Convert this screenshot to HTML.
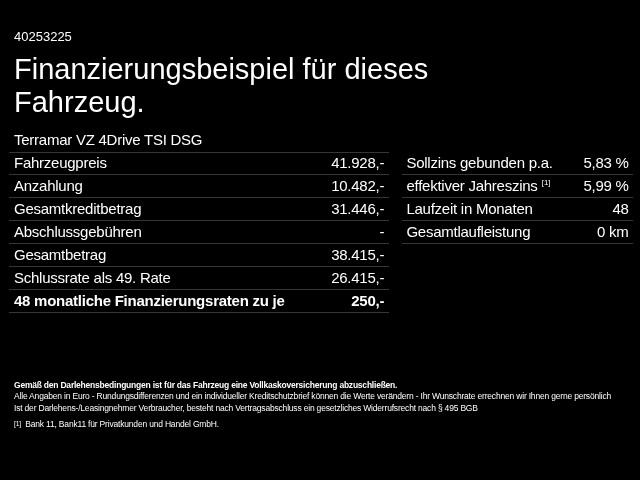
<!DOCTYPE html>
<html><head><meta charset="utf-8">
<style>
html,body{margin:0;padding:0;background:#000;width:640px;height:480px;overflow:hidden}
body{filter:grayscale(1)}
body{font-family:"Liberation Sans",sans-serif;color:#fff;position:relative}
.a{position:absolute;white-space:nowrap}
.ln{position:absolute;height:1px;background:#363636}
.t{font-size:15px;line-height:20px;letter-spacing:-0.25px;height:20px}
.r{text-align:right}
span.sp{font-size:7.9px;position:relative;top:-5.8px;letter-spacing:0;margin-left:4.2px}
.foot{font-size:8.5px;line-height:11px;letter-spacing:-0.19px}
.foot span.fn{font-size:6.8px;position:relative;top:-1px;margin-right:4.3px}
</style></head><body>
<div class="a" style="left:14px;top:29px;font-size:13px;line-height:15px">40253225</div>
<div class="a" style="left:14px;top:52.6px;font-size:29px;line-height:33.4px">Finanzierungsbeispiel für dieses<br>Fahrzeug.</div>
<div class="a t" style="left:14px;top:130px">Terramar VZ 4Drive TSI DSG</div>
<div class="ln" style="left:9px;width:380px;top:152px"></div>
<div class="ln" style="left:9px;width:380px;top:174px"></div>
<div class="ln" style="left:9px;width:380px;top:197px"></div>
<div class="ln" style="left:9px;width:380px;top:220px"></div>
<div class="ln" style="left:9px;width:380px;top:243px"></div>
<div class="ln" style="left:9px;width:380px;top:266px"></div>
<div class="ln" style="left:9px;width:380px;top:289px"></div>
<div class="ln" style="left:9px;width:380px;top:312px"></div>
<div class="ln" style="left:402px;width:231px;top:174px"></div>
<div class="ln" style="left:402px;width:231px;top:197px"></div>
<div class="ln" style="left:402px;width:231px;top:220px"></div>
<div class="ln" style="left:402px;width:231px;top:243px"></div>
<div class="a t" style="left:14px;top:153.00px">Fahrzeugpreis</div>
<div class="a t r" style="left:200px;width:184.2px;top:153.00px">41.928,-</div>
<div class="a t" style="left:14px;top:176.00px">Anzahlung</div>
<div class="a t r" style="left:200px;width:184.2px;top:176.00px">10.482,-</div>
<div class="a t" style="left:14px;top:199.00px">Gesamtkreditbetrag</div>
<div class="a t r" style="left:200px;width:184.2px;top:199.00px">31.446,-</div>
<div class="a t" style="left:14px;top:222.00px">Abschlussgebühren</div>
<div class="a t r" style="left:200px;width:184.2px;top:222.00px">-</div>
<div class="a t" style="left:14px;top:245.00px">Gesamtbetrag</div>
<div class="a t r" style="left:200px;width:184.2px;top:245.00px">38.415,-</div>
<div class="a t" style="left:14px;top:268.00px">Schlussrate als 49. Rate</div>
<div class="a t r" style="left:200px;width:184.2px;top:268.00px">26.415,-</div>
<div class="a t" style="left:14px;top:291.00px"><b>48 monatliche Finanzierungsraten zu je</b></div>
<div class="a t r" style="left:200px;width:184.2px;top:291.00px"><b>250,-</b></div>
<div class="a t" style="left:406.4px;top:153.00px">Sollzins gebunden p.a.</div>
<div class="a t r" style="left:540px;width:88.6px;top:153.00px">5,83 %</div>
<div class="a t" style="left:406.4px;top:176.00px">effektiver Jahreszins<span class="sp">[1]</span></div>
<div class="a t r" style="left:540px;width:88.6px;top:176.00px">5,99 %</div>
<div class="a t" style="left:406.4px;top:199.00px">Laufzeit in Monaten</div>
<div class="a t r" style="left:540px;width:88.6px;top:199.00px">48</div>
<div class="a t" style="left:406.4px;top:222.00px">Gesamtlaufleistung</div>
<div class="a t r" style="left:540px;width:88.6px;top:222.00px">0 km</div>
<div class="a foot" style="left:14px;top:379.5px;letter-spacing:-0.22px"><b>Gemäß den Darlehensbedingungen ist für das Fahrzeug eine Vollkaskoversicherung abzuschließen.</b></div>
<div class="a foot" style="left:14px;top:391px">Alle Angaben in Euro - Rundungsdifferenzen und ein individueller Kreditschutzbrief können die Werte verändern - Ihr Wunschrate errechnen wir Ihnen gerne persönlich</div>
<div class="a foot" style="left:14px;top:403px">Ist der Darlehens-/Leasingnehmer Verbraucher, besteht nach Vertragsabschluss ein gesetzliches Widerrufsrecht nach § 495 BGB</div>
<div class="a foot" style="left:14px;top:419px"><span class="fn">[1]</span>Bank 11, Bank11 für Privatkunden und Handel GmbH.</div>
</body></html>
